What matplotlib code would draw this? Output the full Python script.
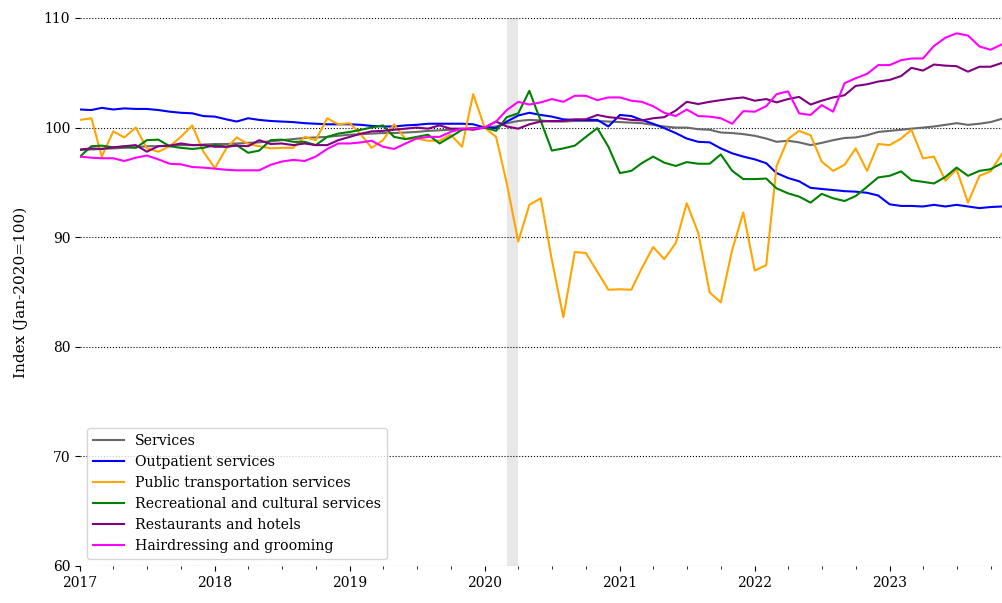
import matplotlib
matplotlib.use("Agg")
import matplotlib.pyplot as plt
import matplotlib.dates as mdates
import pandas as pd

plt.rcParams['font.family'] = ['DejaVu Serif']

# monthly index values, Jan 2017 .. Nov 2023 (Jan-2020 = 100)
months = pd.date_range("2017-01-01", periods=83, freq="MS")

services = [
    97.95, 98.0, 98.05, 98.1, 98.15, 98.2, 98.3, 98.3, 98.35, 98.4, 98.4, 98.45,
    98.5, 98.5, 98.55, 98.6, 98.65, 98.75, 98.85, 98.95, 99.05, 99.1, 99.15, 99.25,
    99.35, 99.4, 99.45, 99.5, 99.5, 99.55, 99.6, 99.7, 99.75, 99.8, 99.85, 99.95,
    100.0, 100.1, 100.4, 100.6, 100.7, 100.65, 100.55, 100.55, 100.6, 100.6, 100.6, 100.55,
    100.5, 100.45, 100.4, 100.25, 100.1, 100.0, 100.0, 99.85, 99.8, 99.55, 99.5, 99.4,
    99.25, 99.0, 98.7, 98.8, 98.65, 98.4, 98.6, 98.85, 99.05, 99.1, 99.3, 99.6,
    99.7, 99.8, 99.9, 100.0, 100.1, 100.25, 100.4, 100.25, 100.35, 100.5, 100.8,
]
outpatient = [
    101.65, 101.6, 101.8, 101.65, 101.75, 101.7, 101.7, 101.6, 101.45, 101.35, 101.3, 101.05,
    101.0, 100.75, 100.55, 100.85, 100.7, 100.6, 100.55, 100.5, 100.4, 100.35, 100.3, 100.3,
    100.3, 100.25, 100.15, 100.1, 100.1, 100.2, 100.25, 100.35, 100.35, 100.35, 100.35, 100.3,
    100.0, 99.95, 100.55, 101.1, 101.35, 101.15, 101.0, 100.75, 100.7, 100.7, 100.7, 100.1,
    101.15, 101.05, 100.7, 100.35, 99.95, 99.5, 99.0, 98.7, 98.65, 98.1, 97.65, 97.35,
    97.1, 96.75, 95.85, 95.4, 95.1, 94.5, 94.4, 94.3, 94.2, 94.15, 94.05, 93.8,
    93.0, 92.85, 92.85, 92.8, 92.95, 92.8, 92.95, 92.8, 92.65, 92.75, 92.8,
]
transport = [
    100.7, 100.85, 97.35, 99.65, 99.1, 100.0, 98.1, 97.8, 98.3, 99.15, 100.2, 97.8,
    96.3, 98.1, 99.1, 98.5, 98.3, 98.1, 98.15, 98.15, 99.15, 98.85, 100.85, 100.3,
    100.4, 99.35, 98.15, 98.85, 100.3, 98.95, 99.0, 98.8, 98.8, 99.35, 98.25, 103.05,
    100.0, 99.15, 94.9, 89.6, 92.95, 93.55, 87.9, 82.7, 88.65, 88.55, 86.85, 85.2,
    85.25, 85.2, 87.15, 89.1, 88.0, 89.45, 93.1, 90.4, 84.95, 84.05, 88.85, 92.25,
    86.95, 87.45, 96.5, 98.95, 99.7, 99.3, 96.9, 96.05, 96.6, 98.1, 96.05, 98.5,
    98.4, 99.0, 99.8, 97.2, 97.35, 95.15, 96.2, 93.15, 95.6, 96.0, 97.6,
]
recreation = [
    97.35, 98.3, 98.35, 98.2, 98.25, 98.15, 98.85, 98.9, 98.3, 98.15, 98.05, 98.15,
    98.4, 98.25, 98.4, 97.7, 97.9, 98.85, 98.9, 98.7, 98.7, 98.4, 99.15, 99.45,
    99.6, 99.8, 100.0, 100.2, 99.15, 98.95, 99.15, 99.35, 98.55, 99.15, 99.8, 99.95,
    100.0, 99.7, 100.95, 101.3, 103.35, 100.6, 97.9, 98.1, 98.35, 99.15, 99.95, 98.25,
    95.85, 96.05, 96.75, 97.35, 96.8, 96.5, 96.85, 96.7, 96.7, 97.55, 96.05, 95.3,
    95.3, 95.35, 94.45, 94.0, 93.7, 93.15, 93.95, 93.55, 93.3, 93.75, 94.6, 95.45,
    95.6, 96.0, 95.2, 95.05, 94.9, 95.5, 96.35, 95.6, 96.05, 96.2, 96.75,
]
restaurants = [
    98.0, 98.1, 98.05, 98.2, 98.3, 98.4, 97.8, 98.3, 98.35, 98.55, 98.4, 98.4,
    98.25, 98.25, 98.35, 98.3, 98.85, 98.5, 98.55, 98.4, 98.55, 98.4, 98.4, 98.85,
    99.15, 99.45, 99.65, 99.7, 99.8, 99.9, 100.0, 99.9, 100.2, 99.9, 99.9, 99.8,
    100.0, 100.55, 100.1, 99.9, 100.3, 100.55, 100.6, 100.6, 100.75, 100.75, 101.15, 100.95,
    100.85, 100.7, 100.65, 100.85, 100.95, 101.55, 102.35, 102.15, 102.35, 102.5, 102.65, 102.75,
    102.45, 102.6, 102.3, 102.6, 102.8, 102.1, 102.45, 102.75, 102.95, 103.8, 103.95, 104.2,
    104.35, 104.7, 105.45, 105.2, 105.75, 105.65, 105.6, 105.1, 105.55, 105.55, 105.9,
]
hairdressing = [
    97.35, 97.25, 97.2, 97.2, 96.95, 97.25, 97.45, 97.1, 96.7, 96.65, 96.4, 96.35,
    96.25, 96.15, 96.1, 96.1, 96.1, 96.6, 96.9, 97.05, 96.95, 97.35, 98.05, 98.55,
    98.55, 98.65, 98.8, 98.25, 98.05, 98.55, 99.0, 99.15, 99.15, 99.6, 99.9, 99.9,
    100.0, 100.55, 101.6, 102.35, 102.1, 102.3, 102.6, 102.35, 102.9, 102.9, 102.5, 102.75,
    102.75, 102.45, 102.35, 101.95, 101.35, 101.05, 101.65, 101.05, 101.0, 100.85, 100.35, 101.5,
    101.45, 101.95, 103.05, 103.3, 101.3, 101.15, 102.05, 101.45, 104.05, 104.5, 104.9, 105.7,
    105.7, 106.15, 106.3, 106.3, 107.45, 108.2, 108.6, 108.4, 107.4, 107.1, 107.6,
]

series = [
    ("Services", services, "dimgray"),
    ("Outpatient services", outpatient, "blue"),
    ("Public transportation services", transport, "orange"),
    ("Recreational and cultural services", recreation, "green"),
    ("Restaurants and hotels", restaurants, "purple"),
    ("Hairdressing and grooming", hairdressing, "magenta"),
]

fig = plt.figure(figsize=(10.02, 6.03), dpi=100)
ax = fig.add_axes([0.0798, 0.0614, 0.9202, 0.9088])

# shaded month (March 2020)
ax.axvspan(pd.Timestamp("2020-03-01"), pd.Timestamp("2020-04-01"),
           color="#e8e8e8", zorder=0, lw=0)

for name, vals, col in series:
    ax.plot(months, vals, color=col, lw=1.5, label=name)

ax.set_ylim(60, 110)
ax.set_xlim(months[0], months[-1])
ax.set_yticks(range(60, 111, 10))
ax.grid(axis="y", linestyle=":", color="black", lw=0.8)
ax.set_axisbelow(True)

ax.xaxis.set_major_locator(mdates.YearLocator())
ax.xaxis.set_major_formatter(mdates.DateFormatter("%Y"))
ax.xaxis.set_minor_locator(mdates.MonthLocator(bymonth=[1, 4, 7, 10]))

for s in ax.spines.values():
    s.set_visible(False)
ax.tick_params(labelsize=10)

ax.set_ylabel("Index (Jan-2020=100)", fontsize=11, labelpad=11)
ax.legend(loc="lower left", fontsize=10.2, handlelength=2.2)

fig.savefig("out.png", dpi=100)
